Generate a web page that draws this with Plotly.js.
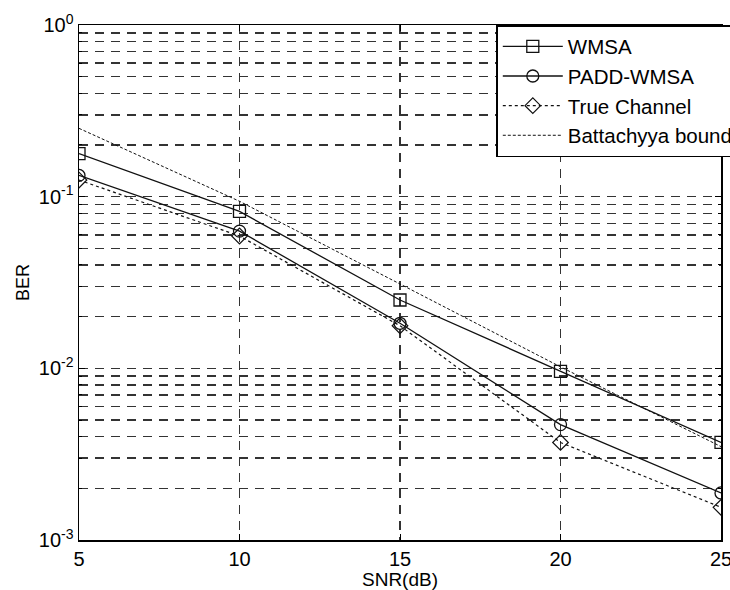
<!DOCTYPE html>
<html>
<head>
<meta charset="utf-8">
<script src="https://cdn.plot.ly/plotly-3.0.1.min.js"></script>
<style>html,body{margin:0;padding:0;background:#fff;}#chart{width:730px;height:590px;}</style>
</head>
<body>
<div id="chart"></div>
<script>
var snr = [5, 10, 15, 20, 25];
var wmsa = [0.178, 0.082, 0.0250, 0.0096, 0.0037];
var paddWmsa = [0.133, 0.063, 0.0183, 0.0047, 0.00188];
var trueChannel = [0.125, 0.059, 0.0177, 0.0037, 0.00155];
var bound = [0.25, 0.094, 0.031, 0.0102, 0.0035];
var seriesNames = ['WMSA', 'PADD-WMSA', 'True Channel', 'Battachyya bound'];
var yTickVals = [1, 0.1, 0.01, 0.001];
var yTickText = ['10<sup>0</sup>', '10<sup>-1</sup>', '10<sup>-2</sup>', '10<sup>-3</sup>'];

var lineCol = '#111';
var traces = [
  {x: snr, y: wmsa, name: seriesNames[0], mode: 'lines+markers',
   line: {color: lineCol, width: 1.3},
   marker: {symbol: 'square-open', size: 12, color: lineCol, line: {width: 1.3}}},
  {x: snr, y: paddWmsa, name: seriesNames[1], mode: 'lines+markers',
   line: {color: lineCol, width: 1.3},
   marker: {symbol: 'circle-open', size: 12, color: lineCol, line: {width: 1.3}}},
  {x: snr, y: trueChannel, name: seriesNames[2], mode: 'lines+markers',
   line: {color: lineCol, width: 1.2, dash: 'dot'},
   marker: {symbol: 'diamond-open', size: 12, color: lineCol, line: {width: 1.2}}},
  {x: snr, y: bound, name: seriesNames[3], mode: 'lines',
   line: {color: lineCol, width: 1, dash: '3px,2px'}}
];

var gridDash = '9px,7px';
var gridCol = '#333';
var layout = {
  width: 730, height: 590,
  margin: {l: 79, r: 9, t: 25, b: 50, autoexpand: false},
  paper_bgcolor: '#fff', plot_bgcolor: '#fff',
  font: {family: 'Liberation Sans, Arial, sans-serif', size: 18, color: '#000'},
  showlegend: true,
  legend: {x: 0.65, y: 1, xanchor: 'left', yanchor: 'top',
    bordercolor: '#000', borderwidth: 1.5, bgcolor: '#fff',
    itemwidth: 60,
    font: {size: 20.5, color: '#000'}, tracegroupgap: 0},
  xaxis: {
    range: [5, 25], tickvals: snr, ticktext: snr.map(String),
    showline: true, linecolor: '#000', linewidth: 1.5, mirror: 'ticks',
    ticks: 'inside', ticklen: 6, tickcolor: '#000',
    showgrid: true, gridcolor: gridCol, gridwidth: 1.5, griddash: gridDash,
    zeroline: false, ticklabeloverflow: 'allow',
    title: {text: 'SNR(dB)', font: {size: 19}, standoff: 4},
    tickfont: {size: 20}
  },
  yaxis: {
    type: 'log', range: [-3, 0],
    tickvals: yTickVals, ticktext: yTickText,
    showline: true, linecolor: '#000', linewidth: 1.5, mirror: 'ticks',
    ticks: 'inside', ticklen: 6, tickcolor: '#000',
    showgrid: true, gridcolor: gridCol, gridwidth: 1.5, griddash: gridDash,
    minor: {dtick: 'D1', showgrid: true, gridcolor: gridCol, gridwidth: 1.5, griddash: gridDash,
            ticks: 'inside', ticklen: 3, tickcolor: '#000'},
    zeroline: false, ticklabeloverflow: 'allow',
    title: {text: 'BER', font: {size: 18}, standoff: 4},
    tickfont: {size: 20}
  }
};

Plotly.newPlot('chart', traces, layout, {displayModeBar: false, staticPlot: true});
</script>
</body>
</html>
